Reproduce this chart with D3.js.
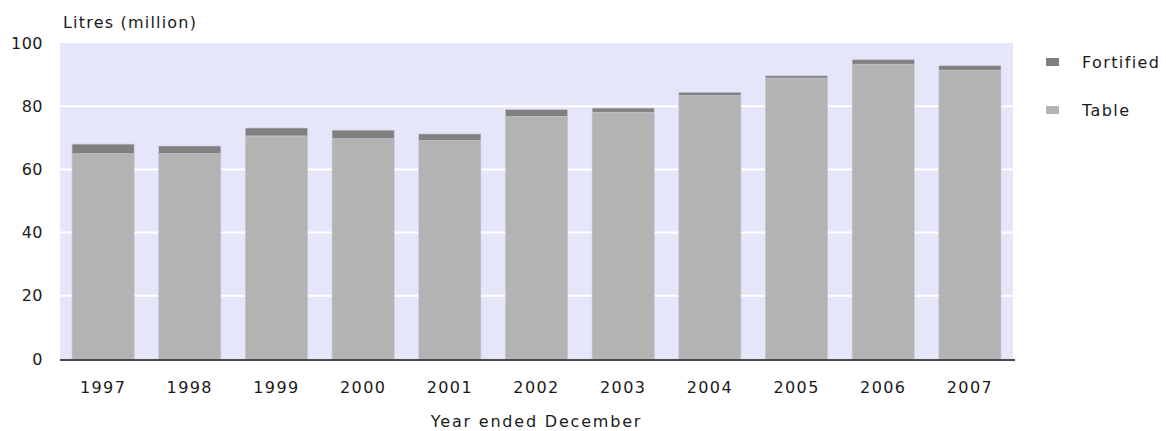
<!DOCTYPE html>
<html>
<head>
<meta charset="utf-8">
<script src="https://cdn.jsdelivr.net/npm/d3@7"></script>
<style>
  html, body { margin: 0; padding: 0; background: #ffffff; }
  svg { display: block; }
  text { font-family: "DejaVu Sans", Verdana, sans-serif; fill: #1a1a1a; }
</style>
</head>
<body>
<svg id="chart" width="1166" height="431"></svg>
<script>
const years = ["1997","1998","1999","2000","2001","2002","2003","2004","2005","2006","2007"];
const tableValues = [65.0, 65.0, 70.6, 69.8, 69.2, 76.8, 78.1, 83.4, 88.9, 93.3, 91.4];
const fortifiedValues = [3.0, 2.4, 2.5, 2.6, 2.0, 2.1, 1.3, 1.0, 0.7, 1.4, 1.4];
const yTicks = [0, 20, 40, 60, 80, 100];
const seriesNames = ["Fortified", "Table"];
const seriesColors = {"Table": "#b3b3b3", "Fortified": "#808080"};

const rows = years.map((yr, i) => ({year: yr, Table: tableValues[i], Fortified: fortifiedValues[i]}));
const stackData = d3.stack().keys(["Table", "Fortified"])(rows);

const svg = d3.select("#chart");
const plotLeft = 60, plotRight = 1013, plotTop = 43, plotBottom = 359;

const x = d3.scaleBand().domain(years).range([plotLeft, plotRight]).paddingInner(0.284).paddingOuter(0.139);
const y = d3.scaleLinear().domain([0, 100]).range([plotBottom, plotTop]);

// plot background
svg.append("rect").attr("x", plotLeft).attr("y", y(100)).attr("width", plotRight - plotLeft).attr("height", y(0) - y(100)).attr("fill", "#e6e6fa");

// gridlines
svg.append("g").selectAll("line").data(yTicks.filter(t => t > 0 && t < 100)).join("line")
  .attr("x1", plotLeft).attr("x2", plotRight).attr("y1", d => y(d)).attr("y2", d => y(d))
  .attr("stroke", "#ffffff").attr("stroke-width", 2);

// bars
svg.append("g").selectAll("g").data(stackData).join("g")
  .attr("fill", d => seriesColors[d.key])
  .selectAll("rect").data(d => d).join("rect")
  .attr("x", d => x(d.data.year))
  .attr("width", x.bandwidth())
  .attr("y", d => y(d[1]))
  .attr("height", d => y(d[0]) - y(d[1]))
  .attr("stroke", "#c4c4d2").attr("stroke-width", 0.6);

// x axis line
svg.append("line").attr("x1", plotLeft).attr("x2", plotRight + 2).attr("y1", 360).attr("y2", 360)
  .attr("stroke", "#111").attr("stroke-width", 1.6);

// y tick labels
const yAxis = d3.axisLeft(y).tickValues(yTicks).tickSize(0).tickPadding(0);
const gy = svg.append("g").attr("transform", "translate(43,0)").call(yAxis);
gy.select(".domain").remove();
gy.selectAll("text").attr("font-size", 16).attr("letter-spacing", 0.5).attr("fill", "#1a1a1a")
  .style("font-family", "'DejaVu Sans', sans-serif");

// x tick labels
const xAxis = d3.axisBottom(x).tickSize(0).tickPadding(0);
const gx = svg.append("g").attr("transform", "translate(0,382)").call(xAxis);
gx.select(".domain").remove();
gx.selectAll("text").attr("font-size", 16).attr("letter-spacing", 1.4).attr("fill", "#1a1a1a")
  .attr("dy", "0.71em")
  .style("font-family", "'DejaVu Sans', sans-serif");

// axis titles
svg.append("text").attr("x", 63).attr("y", 28).attr("font-size", 16).attr("letter-spacing", 1.2)
  .text("Litres (million)");
svg.append("text").attr("x", (plotLeft + plotRight) / 2).attr("y", 427).attr("text-anchor", "middle")
  .attr("font-size", 16).attr("letter-spacing", 1.8).text("Year ended December");

// legend
const legend = svg.append("g");
const legendY = {"Fortified": 62, "Table": 110};
seriesNames.forEach(name => {
  legend.append("rect").attr("x", 1046).attr("y", legendY[name] - 4).attr("width", 13).attr("height", 8)
    .attr("fill", seriesColors[name]);
  legend.append("text").attr("x", 1082).attr("y", legendY[name]).attr("dy", "0.36em")
    .attr("font-size", 16).attr("letter-spacing", 1.4).text(name);
});
</script>
</body>
</html>
